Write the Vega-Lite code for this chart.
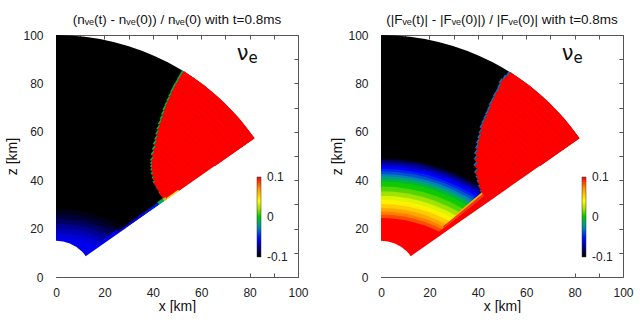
{
  "$schema": "https://vega.github.io/schema/vega-lite/v6.json",
  "background": "white",
  "padding": {"left": 5, "top": 12, "right": 0, "bottom": 0},
  "config": {
    "font": "Liberation Sans",
    "view": {"stroke": null},
    "axis": {"grid": false, "domainColor": "#555", "tickColor": "#555", "labelColor": "#222", "labelFont": "Liberation Sans", "labelFontSize": 12, "titleFont": "Liberation Sans", "titleFontSize": 14, "titleFontWeight": "normal", "titleColor": "#111", "zindex": 1},
    "title": {"font": "Liberation Sans", "fontSize": 13.5, "fontWeight": "normal", "color": "#111"}
  },
  "datasets": {
    "wedge": [{"r1": 15, "r2": 100, "t1": 0, "t2": 55, "v": -0.12}],
    "mask": [{"r1": 0, "r2": 15, "t1": 0, "t2": 90}, {"r1": 0, "r2": 80, "t1": 55, "t2": 90}],
    "label": [{"s": "ν", "x": 77.1, "z": 92.3}, {"s": "e", "x": 81.4, "z": 90.6}],
    "discL": [
      {"R": 57.5, "v": -0.096}, {"R": 55.5, "v": -0.09}, {"R": 53.5, "v": -0.083}, {"R": 51.5, "v": -0.075},
      {"R": 49.5, "v": -0.068}, {"R": 47.5, "v": -0.062}, {"R": 45.5, "v": -0.058}
    ],
    "discR": [
      {"R": 78.6, "v": -0.093}, {"R": 77.9, "v": -0.083}, {"R": 77.0, "v": -0.073}, {"R": 76.0, "v": -0.063},
      {"R": 75.1, "v": -0.055}, {"R": 74.1, "v": -0.047}, {"R": 73.1, "v": -0.038}, {"R": 72.0, "v": -0.028},
      {"R": 71.0, "v": -0.018}, {"R": 70.0, "v": -0.008}, {"R": 68.9, "v": 0.002}, {"R": 66.8, "v": 0.011},
      {"R": 64.8, "v": 0.021}, {"R": 63.0, "v": 0.033}, {"R": 61.3, "v": 0.044}, {"R": 59.6, "v": 0.055},
      {"R": 57.9, "v": 0.066}, {"R": 56.5, "v": 0.075}, {"R": 55.2, "v": 0.085}, {"R": 53.8, "v": 0.12}
    ],
    "stripL": [
      {"r1": 98, "r2": 100, "tf": 31.4, "tb": 31.9}, {"r1": 96, "r2": 98, "tf": 31.4, "tb": 31.9},
      {"r1": 94, "r2": 96, "tf": 31.5, "tb": 32.0}, {"r1": 92, "r2": 94, "tf": 31.5, "tb": 32.0},
      {"r1": 90, "r2": 92, "tf": 31.6, "tb": 32.1}, {"r1": 88, "r2": 90, "tf": 31.8, "tb": 32.3},
      {"r1": 86, "r2": 88, "tf": 32.0, "tb": 32.5}, {"r1": 84, "r2": 86, "tf": 32.2, "tb": 32.7},
      {"r1": 82, "r2": 84, "tf": 32.4, "tb": 33.0}, {"r1": 80, "r2": 82, "tf": 32.8, "tb": 33.4},
      {"r1": 78, "r2": 80, "tf": 33.2, "tb": 33.8}, {"r1": 76, "r2": 78, "tf": 33.6, "tb": 34.2},
      {"r1": 74, "r2": 76, "tf": 34.1, "tb": 34.7}, {"r1": 72, "r2": 74, "tf": 34.7, "tb": 35.3},
      {"r1": 70, "r2": 72, "tf": 35.4, "tb": 36.0}, {"r1": 68, "r2": 70, "tf": 36.0, "tb": 36.7},
      {"r1": 66, "r2": 68, "tf": 36.8, "tb": 37.5}, {"r1": 64, "r2": 66, "tf": 37.6, "tb": 38.3},
      {"r1": 62, "r2": 64, "tf": 38.7, "tb": 39.4}, {"r1": 61, "r2": 62, "tf": 39.5, "tb": 40.3},
      {"r1": 60, "r2": 61, "tf": 40.3, "tb": 41.1}, {"r1": 59, "r2": 60, "tf": 41.2, "tb": 42.0},
      {"r1": 58, "r2": 59, "tf": 42.4, "tb": 43.2}, {"r1": 57, "r2": 58, "tf": 43.8, "tb": 44.6},
      {"r1": 56, "r2": 57, "tf": 45.4, "tb": 46.2}, {"r1": 55.5, "r2": 56, "tf": 47.7, "tb": 48.5},
      {"r1": 55, "r2": 55.5, "tf": 50.2, "tb": 51.0}, {"r1": 54.6, "r2": 55, "tf": 53.2, "tb": 54.0}
    ],
    "stripR": [
      {"r1": 98, "r2": 100, "tf": 31.8, "tb": 32.3}, {"r1": 96, "r2": 98, "tf": 31.5, "tb": 32.0},
      {"r1": 94, "r2": 96, "tf": 31.2, "tb": 31.7}, {"r1": 92, "r2": 94, "tf": 31.5, "tb": 32.0},
      {"r1": 90, "r2": 92, "tf": 31.7, "tb": 32.2}, {"r1": 88, "r2": 90, "tf": 31.7, "tb": 32.2},
      {"r1": 86, "r2": 88, "tf": 31.9, "tb": 32.4}, {"r1": 84, "r2": 86, "tf": 32.0, "tb": 32.5},
      {"r1": 82, "r2": 84, "tf": 32.3, "tb": 32.9}, {"r1": 80, "r2": 82, "tf": 32.5, "tb": 33.1},
      {"r1": 78, "r2": 80, "tf": 32.8, "tb": 33.4}, {"r1": 76, "r2": 78, "tf": 33.0, "tb": 33.6},
      {"r1": 74, "r2": 76, "tf": 33.3, "tb": 33.9}, {"r1": 72, "r2": 74, "tf": 34.0, "tb": 34.6},
      {"r1": 70, "r2": 72, "tf": 34.6, "tb": 35.3}, {"r1": 68, "r2": 70, "tf": 35.2, "tb": 35.9},
      {"r1": 66, "r2": 68, "tf": 36.0, "tb": 36.7}, {"r1": 64, "r2": 66, "tf": 36.9, "tb": 37.6},
      {"r1": 62, "r2": 64, "tf": 38.1, "tb": 38.8}, {"r1": 60, "r2": 62, "tf": 39.5, "tb": 40.3},
      {"r1": 58, "r2": 60, "tf": 41.5, "tb": 42.3}, {"r1": 57, "r2": 58, "tf": 43.2, "tb": 44.0},
      {"r1": 56, "r2": 57, "tf": 44.8, "tb": 45.6}, {"r1": 55, "r2": 56, "tf": 46.7, "tb": 47.5},
      {"r1": 54.3, "r2": 55, "tf": 48.7, "tb": 49.5}
    ],
    "edgeL": [
      {"r1": 15, "r2": 32, "t1": 52, "t2": 55, "v": -0.058},
      {"r1": 32, "r2": 45, "t1": 53.5, "t2": 55, "v": -0.06},
      {"r1": 45, "r2": 52, "t1": 53.8, "t2": 55, "v": -0.05},
      {"r1": 52, "r2": 54.6, "t1": 53.5, "t2": 55, "v": -0.015},
      {"r1": 54.6, "r2": 56, "t1": 53.8, "t2": 55, "v": 0.02},
      {"r1": 56, "r2": 62, "t1": 54.5, "t2": 55, "v": 0.045}
    ],
    "edgeR": [
      {"r1": 26, "r2": 54.3, "t1": 52, "t2": 55, "v": 0.12},
      {"r1": 33, "r2": 54.3, "t1": 50.8, "t2": 52, "v": 0.09},
      {"r1": 40, "r2": 54.3, "t1": 50, "t2": 50.8, "v": 0.065}
    ]
  },
  "bounds": "flush",
  "spacing": 83,
  "resolve": {"scale": {"color": "independent"}, "legend": {"color": "independent"}},
  "hconcat": [
    {
      "width": 242,
      "height": 242,
      "title": {"text": "(nᵥₑ(t) - nᵥₑ(0)) / nᵥₑ(0) with t=0.8ms", "offset": 3},
      "resolve": {"axis": {"x": "independent", "y": "independent"}},
      "layer": [
        {
          "data": {"name": "wedge"},
          "mark": {"type": "arc", "clip": true},
          "encoding": {
            "x": {"datum": 0, "type": "quantitative", "scale": {"domain": [0, 100], "nice": false},
              "axis": {"orient": "bottom", "title": "x [km]", "values": [0, 10, 20, 30, 40, 50, 60, 70, 80, 90, 100], "labelExpr": "datum.value % 20 === 0 ? datum.label : ''", "tickSize": -4, "labelPadding": 14, "titlePadding": 1, "labelFlush": false, "labelOverlap": false}},
            "y": {"datum": 0, "type": "quantitative", "scale": {"domain": [0, 100], "nice": false},
              "axis": {"orient": "left", "title": "z [km]", "values": [0, 10, 20, 30, 40, 50, 60, 70, 80, 90, 100], "labelExpr": "datum.value % 20 === 0 ? datum.label : ''", "tickSize": -4, "labelPadding": 17, "titlePadding": 3, "labelFlush": false, "labelOverlap": false}},
            "theta": {"field": "t1", "type": "quantitative", "scale": {"domain": [0, 360], "range": [0, 6.283185307179586]}, "stack": null},
            "theta2": {"field": "t2"},
            "radius": {"field": "r2", "type": "quantitative", "scale": {"type": "linear", "domain": [0, 100], "range": [0, 242], "zero": true}, "stack": null},
            "radius2": {"field": "r1"},
            "color": {"field": "v", "type": "quantitative",
              "scale": {"domain": [-0.1, -0.08, -0.055, -0.025, 0, 0.02, 0.04, 0.07, 0.1], "range": ["#000000", "#000070", "#0000ff", "#0090b0", "#00c800", "#9be000", "#ffff00", "#ff9a00", "#ff0000"], "interpolate": "rgb", "clamp": true},
              "legend": {"orient": "none", "legendX": 201, "legendY": 142, "direction": "vertical", "gradientLength": 80, "gradientThickness": 4, "title": null, "values": [-0.1, 0, 0.1], "labelExpr": "datum.value > 0.05 ? '0.1' : datum.value < -0.05 ? '-0.1' : '0'", "labelFontSize": 12, "labelOffset": 6, "labelColor": "#222", "gradientStrokeColor": "#333", "gradientStrokeWidth": 0.5, "encode": {"labels": {"update": {"baseline": {"value": "middle"}}}}}}
          }
        },
        {
          "data": {"name": "discL"},
          "mark": {"type": "arc", "clip": true},
          "encoding": {
            "x": {"datum": 0, "type": "quantitative", "axis": null},
            "y": {"datum": -29.4, "type": "quantitative", "axis": null},
            "theta": {"datum": 0, "type": "quantitative"},
            "theta2": {"datum": 40},
            "radius": {"field": "R", "type": "quantitative", "stack": null},
            "color": {"field": "v", "type": "quantitative", "legend": null}
          }
        },
        {
          "data": {"name": "stripL"},
          "mark": {"type": "arc", "clip": true},
          "encoding": {
            "x": {"datum": 0, "type": "quantitative", "axis": null},
            "y": {"datum": 0, "type": "quantitative", "axis": null},
            "theta": {"field": "tf", "type": "quantitative", "stack": null},
            "theta2": {"field": "tb"},
            "radius": {"field": "r2", "type": "quantitative", "stack": null},
            "radius2": {"field": "r1"},
            "color": {"datum": -0.01, "type": "quantitative", "legend": null}
          }
        },
        {
          "data": {"name": "stripL"},
          "mark": {"type": "arc", "clip": true, "stroke": "#ff0000", "strokeWidth": 0.9},
          "encoding": {
            "x": {"datum": 0, "type": "quantitative", "axis": null},
            "y": {"datum": 0, "type": "quantitative", "axis": null},
            "theta": {"field": "tb", "type": "quantitative", "stack": null},
            "theta2": {"datum": 55},
            "radius": {"field": "r2", "type": "quantitative", "stack": null},
            "radius2": {"field": "r1"},
            "color": {"datum": 0.12, "type": "quantitative", "legend": null}
          }
        },
        {
          "data": {"name": "edgeL"},
          "mark": {"type": "arc", "clip": true},
          "encoding": {
            "x": {"datum": 0, "type": "quantitative", "axis": null},
            "y": {"datum": 0, "type": "quantitative", "axis": null},
            "theta": {"field": "t1", "type": "quantitative", "stack": null},
            "theta2": {"field": "t2"},
            "radius": {"field": "r2", "type": "quantitative", "stack": null},
            "radius2": {"field": "r1"},
            "color": {"field": "v", "type": "quantitative", "legend": null}
          }
        },
        {
          "data": {"name": "mask"},
          "mark": {"type": "arc", "clip": true, "fill": "white"},
          "encoding": {
            "x": {"datum": 0, "type": "quantitative", "axis": null},
            "y": {"datum": 0, "type": "quantitative", "axis": null},
            "theta": {"field": "t1", "type": "quantitative", "stack": null},
            "theta2": {"field": "t2"},
            "radius": {"field": "r2", "type": "quantitative", "stack": null},
            "radius2": {"field": "r1"}
          }
        },
        {
          "data": {"name": "label"},
          "transform": [{"filter": "datum.s === 'ν'"}],
          "mark": {"type": "text", "fontSize": 21, "font": "DejaVu Sans", "color": "#111"},
          "encoding": {
            "x": {"field": "x", "type": "quantitative", "axis": {"orient": "top", "title": null, "labels": false, "values": [0, 10, 20, 30, 40, 50, 60, 70, 80, 90, 100], "tickSize": -4}},
            "y": {"field": "z", "type": "quantitative", "axis": {"orient": "right", "title": null, "labels": false, "values": [0, 10, 20, 30, 40, 50, 60, 70, 80, 90, 100], "tickSize": -4}},
            "text": {"field": "s"}
          }
        },
        {
          "data": {"name": "label"},
          "transform": [{"filter": "datum.s === 'e'"}],
          "mark": {"type": "text", "fontSize": 15, "font": "DejaVu Sans", "color": "#111"},
          "encoding": {
            "x": {"field": "x", "type": "quantitative", "axis": null},
            "y": {"field": "z", "type": "quantitative", "axis": null},
            "text": {"field": "s"}
          }
        }
      ]
    },
    {
      "width": 242,
      "height": 242,
      "title": {"text": "(|Fᵥₑ(t)| - |Fᵥₑ(0)|) / |Fᵥₑ(0)| with t=0.8ms", "offset": 3},
      "resolve": {"axis": {"x": "independent", "y": "independent"}},
      "layer": [
        {
          "data": {"name": "wedge"},
          "mark": {"type": "arc", "clip": true},
          "encoding": {
            "x": {"datum": 0, "type": "quantitative", "scale": {"domain": [0, 100], "nice": false},
              "axis": {"orient": "bottom", "title": "x [km]", "values": [0, 10, 20, 30, 40, 50, 60, 70, 80, 90, 100], "labelExpr": "datum.value % 20 === 0 ? datum.label : ''", "tickSize": -4, "labelPadding": 14, "titlePadding": 1, "labelFlush": false, "labelOverlap": false}},
            "y": {"datum": 0, "type": "quantitative", "scale": {"domain": [0, 100], "nice": false},
              "axis": {"orient": "left", "title": "z [km]", "values": [0, 10, 20, 30, 40, 50, 60, 70, 80, 90, 100], "labelExpr": "datum.value % 20 === 0 ? datum.label : ''", "tickSize": -4, "labelPadding": 17, "titlePadding": 3, "labelFlush": false, "labelOverlap": false}},
            "theta": {"field": "t1", "type": "quantitative", "scale": {"domain": [0, 360], "range": [0, 6.283185307179586]}, "stack": null},
            "theta2": {"field": "t2"},
            "radius": {"field": "r2", "type": "quantitative", "scale": {"type": "linear", "domain": [0, 100], "range": [0, 242], "zero": true}, "stack": null},
            "radius2": {"field": "r1"},
            "color": {"field": "v", "type": "quantitative",
              "scale": {"domain": [-0.1, -0.08, -0.055, -0.025, 0, 0.02, 0.04, 0.07, 0.1], "range": ["#000000", "#000070", "#0000ff", "#0090b0", "#00c800", "#9be000", "#ffff00", "#ff9a00", "#ff0000"], "interpolate": "rgb", "clamp": true},
              "legend": {"orient": "none", "legendX": 201, "legendY": 142, "direction": "vertical", "gradientLength": 80, "gradientThickness": 4, "title": null, "values": [-0.1, 0, 0.1], "labelExpr": "datum.value > 0.05 ? '0.1' : datum.value < -0.05 ? '-0.1' : '0'", "labelFontSize": 12, "labelOffset": 6, "labelColor": "#222", "gradientStrokeColor": "#333", "gradientStrokeWidth": 0.5, "encode": {"labels": {"update": {"baseline": {"value": "middle"}}}}}}
          }
        },
        {
          "data": {"name": "discR"},
          "mark": {"type": "arc", "clip": true},
          "encoding": {
            "x": {"datum": 0, "type": "quantitative", "axis": null},
            "y": {"datum": -29.4, "type": "quantitative", "axis": null},
            "theta": {"datum": 0, "type": "quantitative"},
            "theta2": {"datum": 40},
            "radius": {"field": "R", "type": "quantitative", "stack": null},
            "color": {"field": "v", "type": "quantitative", "legend": null}
          }
        },
        {
          "data": {"name": "stripR"},
          "mark": {"type": "arc", "clip": true},
          "encoding": {
            "x": {"datum": 0, "type": "quantitative", "axis": null},
            "y": {"datum": 0, "type": "quantitative", "axis": null},
            "theta": {"field": "tf", "type": "quantitative", "stack": null},
            "theta2": {"field": "tb"},
            "radius": {"field": "r2", "type": "quantitative", "stack": null},
            "radius2": {"field": "r1"},
            "color": {"datum": -0.03, "type": "quantitative", "legend": null}
          }
        },
        {
          "data": {"name": "stripR"},
          "mark": {"type": "arc", "clip": true, "stroke": "#ff0000", "strokeWidth": 0.9},
          "encoding": {
            "x": {"datum": 0, "type": "quantitative", "axis": null},
            "y": {"datum": 0, "type": "quantitative", "axis": null},
            "theta": {"field": "tb", "type": "quantitative", "stack": null},
            "theta2": {"datum": 55},
            "radius": {"field": "r2", "type": "quantitative", "stack": null},
            "radius2": {"field": "r1"},
            "color": {"datum": 0.12, "type": "quantitative", "legend": null}
          }
        },
        {
          "data": {"name": "edgeR"},
          "mark": {"type": "arc", "clip": true},
          "encoding": {
            "x": {"datum": 0, "type": "quantitative", "axis": null},
            "y": {"datum": 0, "type": "quantitative", "axis": null},
            "theta": {"field": "t1", "type": "quantitative", "stack": null},
            "theta2": {"field": "t2"},
            "radius": {"field": "r2", "type": "quantitative", "stack": null},
            "radius2": {"field": "r1"},
            "color": {"field": "v", "type": "quantitative", "legend": null}
          }
        },
        {
          "data": {"name": "mask"},
          "mark": {"type": "arc", "clip": true, "fill": "white"},
          "encoding": {
            "x": {"datum": 0, "type": "quantitative", "axis": null},
            "y": {"datum": 0, "type": "quantitative", "axis": null},
            "theta": {"field": "t1", "type": "quantitative", "stack": null},
            "theta2": {"field": "t2"},
            "radius": {"field": "r2", "type": "quantitative", "stack": null},
            "radius2": {"field": "r1"}
          }
        },
        {
          "data": {"name": "label"},
          "transform": [{"filter": "datum.s === 'ν'"}],
          "mark": {"type": "text", "fontSize": 21, "font": "DejaVu Sans", "color": "#111"},
          "encoding": {
            "x": {"field": "x", "type": "quantitative", "axis": {"orient": "top", "title": null, "labels": false, "values": [0, 10, 20, 30, 40, 50, 60, 70, 80, 90, 100], "tickSize": -4}},
            "y": {"field": "z", "type": "quantitative", "axis": {"orient": "right", "title": null, "labels": false, "values": [0, 10, 20, 30, 40, 50, 60, 70, 80, 90, 100], "tickSize": -4}},
            "text": {"field": "s"}
          }
        },
        {
          "data": {"name": "label"},
          "transform": [{"filter": "datum.s === 'e'"}],
          "mark": {"type": "text", "fontSize": 15, "font": "DejaVu Sans", "color": "#111"},
          "encoding": {
            "x": {"field": "x", "type": "quantitative", "axis": null},
            "y": {"field": "z", "type": "quantitative", "axis": null},
            "text": {"field": "s"}
          }
        }
      ]
    }
  ]
}
